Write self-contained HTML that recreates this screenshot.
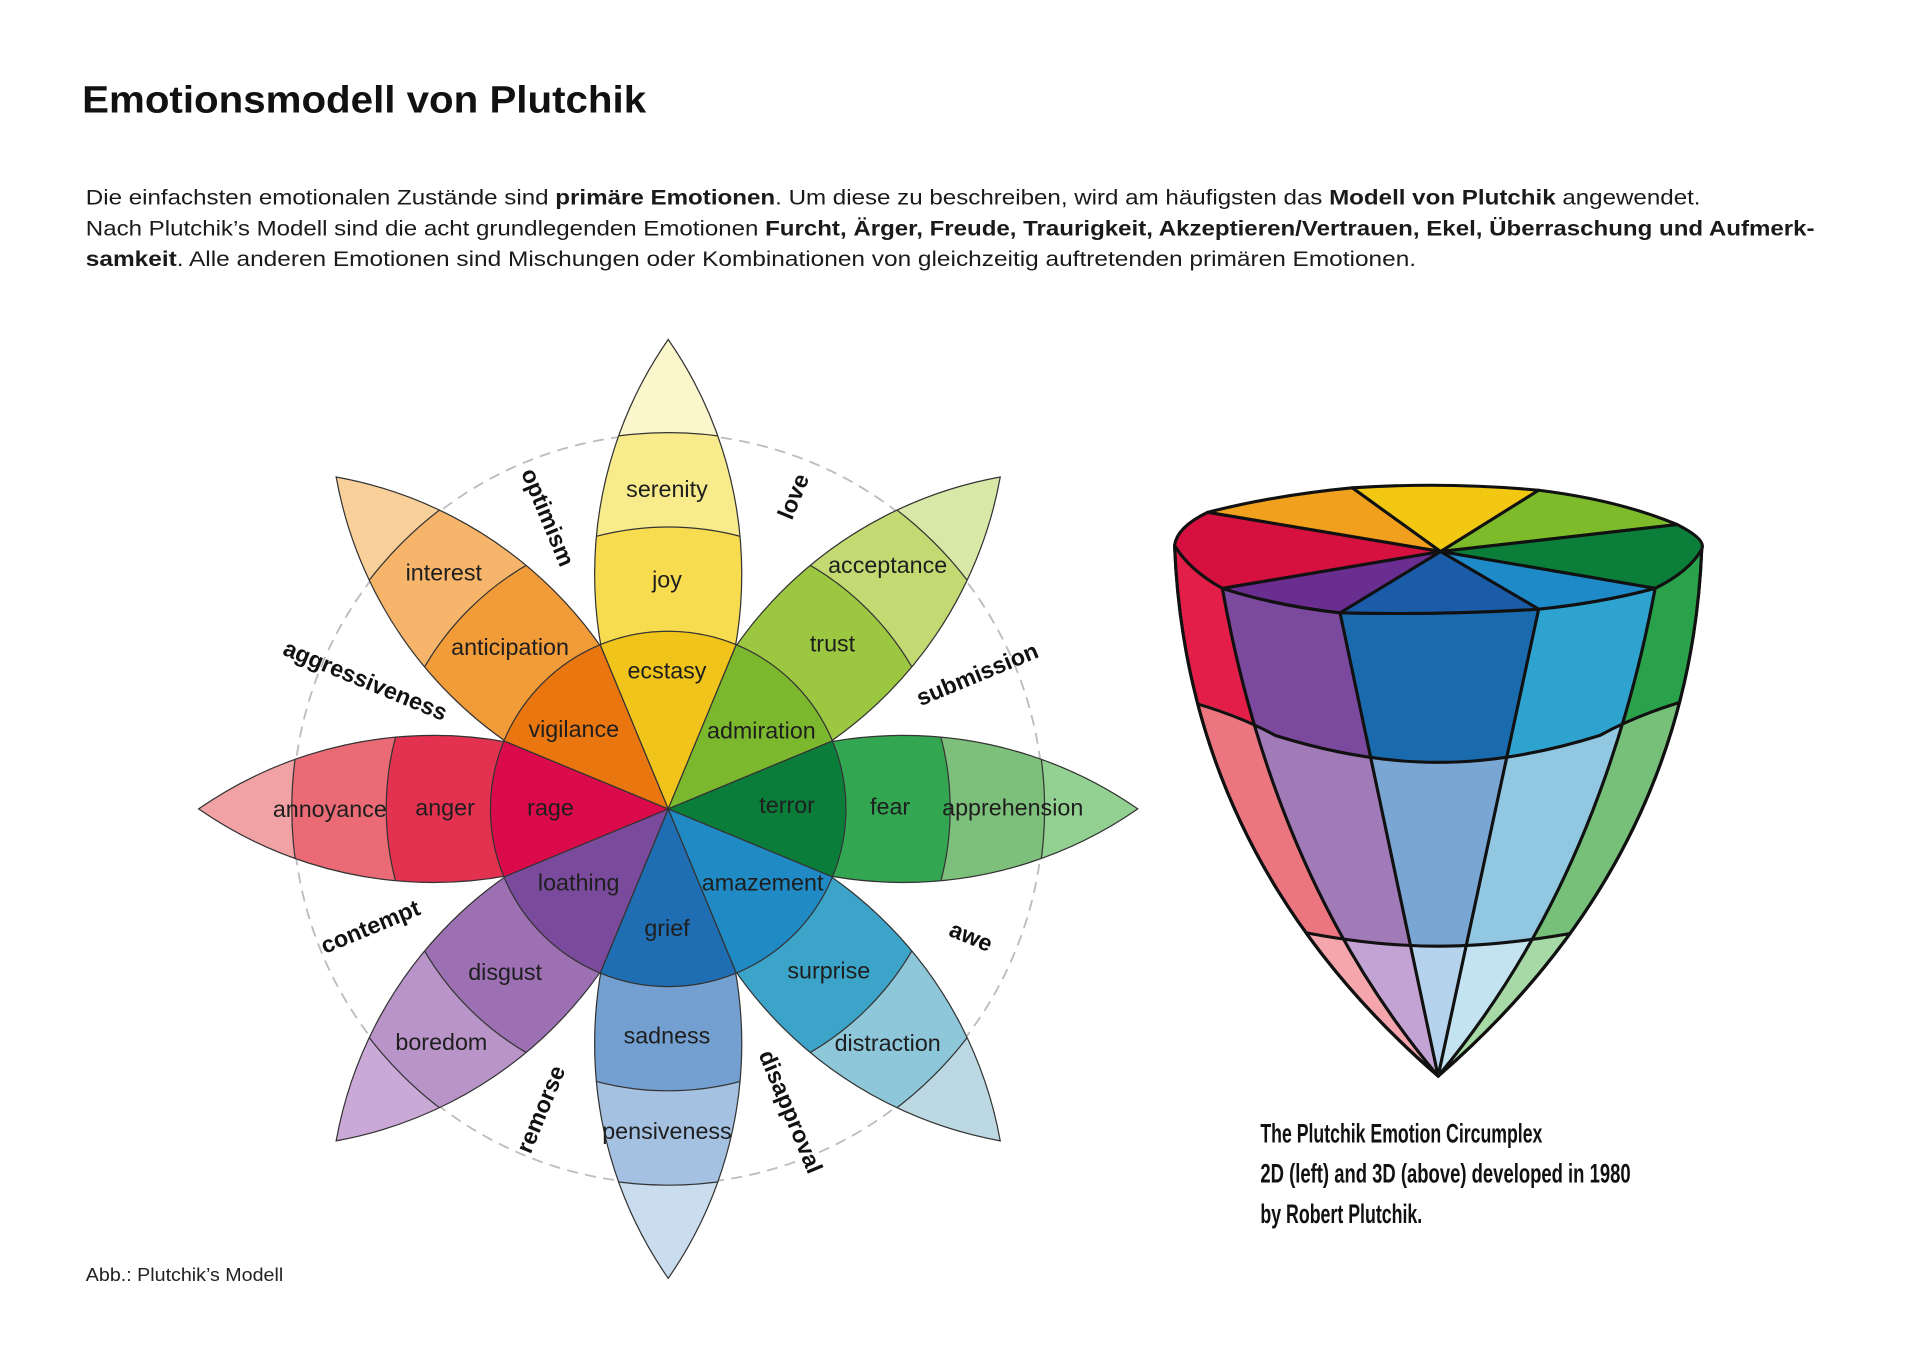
<!DOCTYPE html>
<html><head><meta charset="utf-8"><style>
html,body{margin:0;padding:0;background:#fff;width:1920px;height:1358px;overflow:hidden;}
svg{display:block;position:absolute;left:0;top:0;}
.l{font-family:"Liberation Sans",Arial,sans-serif;font-size:19px;fill:#1e1e1e;text-anchor:middle;dominant-baseline:central;}
.d{font-family:"Liberation Sans",Arial,sans-serif;font-size:19px;font-weight:bold;fill:#111;text-anchor:middle;dominant-baseline:central;}
.p{font-family:"Liberation Sans",Arial,sans-serif;font-size:17.5px;fill:#1a1a1a;}
.c{font-family:"Liberation Sans Narrow","Liberation Sans",sans-serif;font-size:22px;font-weight:bold;fill:#111;}
</style></head><body>
<svg width="1920" height="1358" viewBox="0 0 1566 1108" preserveAspectRatio="none" xmlns="http://www.w3.org/2000/svg">
<defs>
<clipPath id="lens"><path d="M545,660 A335.6,335.6 0 0 0 545,277 A335.6,335.6 0 0 0 545,660 Z"/></clipPath>
<clipPath id="r1"><path d="M940,565 Q1000,575 1040,600 Q1110,622 1173,622 Q1235,622 1305,600 Q1345,578 1400,565 L1400,900 L940,900 Z"/></clipPath>
<clipPath id="r2"><path d="M940,740 L1060,760 Q1120,772 1173,772 Q1225,772 1290,760 L1400,740 L1400,900 L940,900 Z"/></clipPath>
<clipPath id="cone"><path d="M958,445 Q968,700 1173,878 Q1378,700 1388,448 L1388,420 L958,420 Z"/></clipPath>
</defs>

<text x="67" y="92" font-family="Liberation Sans,Arial,sans-serif" font-weight="bold" font-size="31" fill="#111" textLength="460" lengthAdjust="spacingAndGlyphs">Emotionsmodell von Plutchik</text>

<text class="p" x="70" y="167" textLength="1317" lengthAdjust="spacingAndGlyphs">Die einfachsten emotionalen Zustände sind <tspan font-weight="bold">primäre Emotionen</tspan>. Um diese zu beschreiben, wird am häufigsten das <tspan font-weight="bold">Modell von Plutchik</tspan> angewendet.</text>
<text class="p" x="70" y="192" textLength="1410" lengthAdjust="spacingAndGlyphs">Nach Plutchik’s Modell sind die acht grundlegenden Emotionen <tspan font-weight="bold">Furcht, Ärger, Freude, Traurigkeit, Akzeptieren/Vertrauen, Ekel, Überraschung und Aufmerk-</tspan></text>
<text class="p" x="70" y="217" textLength="1085" lengthAdjust="spacingAndGlyphs"><tspan font-weight="bold">samkeit</tspan>. Alle anderen Emotionen sind Mischungen oder Kombinationen von gleichzeitig auftretenden primären Emotionen.</text>

<text x="70" y="1045" font-family="Liberation Sans,Arial,sans-serif" font-size="15" fill="#222" textLength="161" lengthAdjust="spacingAndGlyphs">Abb.: Plutchik’s Modell</text>

<circle cx="545" cy="660" r="306" fill="none" stroke="#bdbdbd" stroke-width="1.5" stroke-dasharray="9,6"/>

<g stroke="#333" stroke-width="1">
<g transform="rotate(0 545 660)"><g clip-path="url(#lens)"><circle cx="545" cy="660" r="400" fill="#fbf6cb"/><circle cx="545" cy="660" r="307" fill="#f8eb8c"/><circle cx="545" cy="660" r="230" fill="#f8dc50"/></g><path d="M545,660 A335.6,335.6 0 0 0 545,277 A335.6,335.6 0 0 0 545,660 Z" fill="none"/></g>
<g transform="rotate(45 545 660)"><g clip-path="url(#lens)"><circle cx="545" cy="660" r="400" fill="#d8e8a6"/><circle cx="545" cy="660" r="307" fill="#c3da72"/><circle cx="545" cy="660" r="230" fill="#9cc841"/></g><path d="M545,660 A335.6,335.6 0 0 0 545,277 A335.6,335.6 0 0 0 545,660 Z" fill="none"/></g>
<g transform="rotate(90 545 660)"><g clip-path="url(#lens)"><circle cx="545" cy="660" r="400" fill="#93d193"/><circle cx="545" cy="660" r="307" fill="#7cc07b"/><circle cx="545" cy="660" r="230" fill="#33a651"/></g><path d="M545,660 A335.6,335.6 0 0 0 545,277 A335.6,335.6 0 0 0 545,660 Z" fill="none"/></g>
<g transform="rotate(135 545 660)"><g clip-path="url(#lens)"><circle cx="545" cy="660" r="400" fill="#bcd8e3"/><circle cx="545" cy="660" r="307" fill="#8ec7d9"/><circle cx="545" cy="660" r="230" fill="#3ba4c8"/></g><path d="M545,660 A335.6,335.6 0 0 0 545,277 A335.6,335.6 0 0 0 545,660 Z" fill="none"/></g>
<g transform="rotate(180 545 660)"><g clip-path="url(#lens)"><circle cx="545" cy="660" r="400" fill="#c9ddef"/><circle cx="545" cy="660" r="307" fill="#a5c1e1"/><circle cx="545" cy="660" r="230" fill="#73a0d0"/></g><path d="M545,660 A335.6,335.6 0 0 0 545,277 A335.6,335.6 0 0 0 545,660 Z" fill="none"/></g>
<g transform="rotate(225 545 660)"><g clip-path="url(#lens)"><circle cx="545" cy="660" r="400" fill="#cba9d7"/><circle cx="545" cy="660" r="307" fill="#b894c9"/><circle cx="545" cy="660" r="230" fill="#9d70b4"/></g><path d="M545,660 A335.6,335.6 0 0 0 545,277 A335.6,335.6 0 0 0 545,660 Z" fill="none"/></g>
<g transform="rotate(270 545 660)"><g clip-path="url(#lens)"><circle cx="545" cy="660" r="400" fill="#f1a2a5"/><circle cx="545" cy="660" r="307" fill="#ea6b76"/><circle cx="545" cy="660" r="230" fill="#e2324f"/></g><path d="M545,660 A335.6,335.6 0 0 0 545,277 A335.6,335.6 0 0 0 545,660 Z" fill="none"/></g>
<g transform="rotate(315 545 660)"><g clip-path="url(#lens)"><circle cx="545" cy="660" r="400" fill="#f9d09a"/><circle cx="545" cy="660" r="307" fill="#f6b56a"/><circle cx="545" cy="660" r="230" fill="#f19b39"/></g><path d="M545,660 A335.6,335.6 0 0 0 545,277 A335.6,335.6 0 0 0 545,660 Z" fill="none"/></g>
</g>

<g stroke="#333" stroke-width="1">
<path transform="rotate(0 545 660)" fill="#f0c41b" d="M545,660 L489.51,526.04 A145,145 0 0 1 600.49,526.04 Z"/>
<path transform="rotate(45 545 660)" fill="#7cb82d" d="M545,660 L489.51,526.04 A145,145 0 0 1 600.49,526.04 Z"/>
<path transform="rotate(90 545 660)" fill="#0b7d3a" d="M545,660 L489.51,526.04 A145,145 0 0 1 600.49,526.04 Z"/>
<path transform="rotate(135 545 660)" fill="#1f8ac3" d="M545,660 L489.51,526.04 A145,145 0 0 1 600.49,526.04 Z"/>
<path transform="rotate(180 545 660)" fill="#1f6db3" d="M545,660 L489.51,526.04 A145,145 0 0 1 600.49,526.04 Z"/>
<path transform="rotate(225 545 660)" fill="#7a4b9c" d="M545,660 L489.51,526.04 A145,145 0 0 1 600.49,526.04 Z"/>
<path transform="rotate(270 545 660)" fill="#da0a4b" d="M545,660 L489.51,526.04 A145,145 0 0 1 600.49,526.04 Z"/>
<path transform="rotate(315 545 660)" fill="#e9760f" d="M545,660 L489.51,526.04 A145,145 0 0 1 600.49,526.04 Z"/>
</g>

<text class="l" x="544" y="399">serenity</text>
<text class="l" x="544" y="473">joy</text>
<text class="l" x="544" y="547">ecstasy</text>
<text class="l" x="362" y="467">interest</text>
<text class="l" x="416" y="528">anticipation</text>
<text class="l" x="468" y="595">vigilance</text>
<text class="l" x="724" y="461">acceptance</text>
<text class="l" x="679" y="525">trust</text>
<text class="l" x="621" y="596">admiration</text>
<text class="l" x="269" y="660">annoyance</text>
<text class="l" x="363" y="659">anger</text>
<text class="l" x="449" y="659">rage</text>
<text class="l" x="642" y="657">terror</text>
<text class="l" x="726" y="658">fear</text>
<text class="l" x="826" y="659">apprehension</text>
<text class="l" x="472" y="720">loathing</text>
<text class="l" x="544" y="757">grief</text>
<text class="l" x="622" y="720">amazement</text>
<text class="l" x="412" y="793">disgust</text>
<text class="l" x="360" y="850">boredom</text>
<text class="l" x="544" y="845">sadness</text>
<text class="l" x="544" y="923">pensiveness</text>
<text class="l" x="676" y="792">surprise</text>
<text class="l" x="724" y="851">distraction</text>

<text class="d" transform="translate(447,422) rotate(67.5)">optimism</text>
<text class="d" transform="translate(647,405) rotate(-67.5)">love</text>
<text class="d" transform="translate(797,550) rotate(-22.5)">submission</text>
<text class="d" transform="translate(792,764) rotate(22.5)">awe</text>
<text class="d" transform="translate(645,907) rotate(67.5)">disapproval</text>
<text class="d" transform="translate(441,905) rotate(-67.5)">remorse</text>
<text class="d" transform="translate(302,756) rotate(-22.5)">contempt</text>
<text class="d" transform="translate(298,555) rotate(22.5)">aggressiveness</text>

<g stroke="#111" stroke-width="2.5" stroke-linejoin="round">
<path fill="#e31e48" d="M958,445 Q968,700 1173,878 Q1040,720 997,480 Q970,465 958,445 Z"/>
<path fill="#7b4a9e" d="M997,480 Q1040,720 1173,878 L1093,500 Q1040,494 997,480 Z"/>
<path fill="#1a6aae" d="M1093,500 L1173,878 L1255,497 Q1175,502 1093,500 Z"/>
<path fill="#2fa3d0" d="M1255,497 L1173,878 Q1305,720 1350,480 Q1305,492 1255,497 Z"/>
<path fill="#2aa24c" d="M1350,480 Q1305,720 1173,878 Q1378,700 1388,448 Q1378,466 1350,480 Z"/>
</g>
<g clip-path="url(#r1)" stroke="#111" stroke-width="2.5" stroke-linejoin="round">
<path fill="#ec7680" d="M958,445 Q968,700 1173,878 Q1040,720 997,480 Q970,465 958,445 Z"/>
<path fill="#a17ab8" d="M997,480 Q1040,720 1173,878 L1093,500 Q1040,494 997,480 Z"/>
<path fill="#7aa6d4" d="M1093,500 L1173,878 L1255,497 Q1175,502 1093,500 Z"/>
<path fill="#91c7e0" d="M1255,497 L1173,878 Q1305,720 1350,480 Q1305,492 1255,497 Z"/>
<path fill="#76c07a" d="M1350,480 Q1305,720 1173,878 Q1378,700 1388,448 Q1378,466 1350,480 Z"/>
</g>
<g clip-path="url(#r2)" stroke="#111" stroke-width="2.5" stroke-linejoin="round">
<path fill="#f5a6ad" d="M958,445 Q968,700 1173,878 Q1040,720 997,480 Q970,465 958,445 Z"/>
<path fill="#c3a3d4" d="M997,480 Q1040,720 1173,878 L1093,500 Q1040,494 997,480 Z"/>
<path fill="#b5d3ec" d="M1093,500 L1173,878 L1255,497 Q1175,502 1093,500 Z"/>
<path fill="#c4e3f1" d="M1255,497 L1173,878 Q1305,720 1350,480 Q1305,492 1255,497 Z"/>
<path fill="#a6d9a6" d="M1350,480 Q1305,720 1173,878 Q1378,700 1388,448 Q1378,466 1350,480 Z"/>
</g>
<g fill="none" stroke="#111" stroke-width="2.5" clip-path="url(#cone)">
<path d="M940,565 Q1000,578 1040,600 Q1110,622 1173,622 Q1235,622 1305,600 Q1345,578 1400,565"/>
<path d="M940,740 L1060,760 Q1120,772 1173,772 Q1225,772 1290,760 L1400,740"/>
</g>
<path fill="none" stroke="#111" stroke-width="2.5" d="M958,445 Q968,700 1173,878 Q1378,700 1388,448"/>
<g stroke="#111" stroke-width="2.5" stroke-linejoin="round">
<path fill="#f0a01c" d="M1175,450 L985,418 Q1040,404 1103,398 Z"/>
<path fill="#f2c813" d="M1175,450 L1103,398 Q1180,393 1255,400 Z"/>
<path fill="#7dbb2a" d="M1175,450 L1255,400 Q1320,408 1368,428 Z"/>
<path fill="#0b7e3a" d="M1175,450 L1368,428 Q1392,440 1388,448 Q1378,466 1350,480 Z"/>
<path fill="#1e8ac8" d="M1175,450 L1350,480 Q1305,492 1255,497 Z"/>
<path fill="#1a5ca8" d="M1175,450 L1255,497 Q1175,502 1093,500 Z"/>
<path fill="#6a2d90" d="M1175,450 L1093,500 Q1040,494 997,480 Z"/>
<path fill="#d6103f" d="M1175,450 L997,480 Q970,465 958,445 Q960,430 985,418 Z"/>
</g>

<text class="c" x="1028" y="932" textLength="230" lengthAdjust="spacingAndGlyphs">The Plutchik Emotion Circumplex</text>
<text class="c" x="1028" y="965" textLength="302" lengthAdjust="spacingAndGlyphs">2D (left) and 3D (above) developed in 1980</text>
<text class="c" x="1028" y="998" textLength="132" lengthAdjust="spacingAndGlyphs">by Robert Plutchik.</text>
</svg>
</body></html>
